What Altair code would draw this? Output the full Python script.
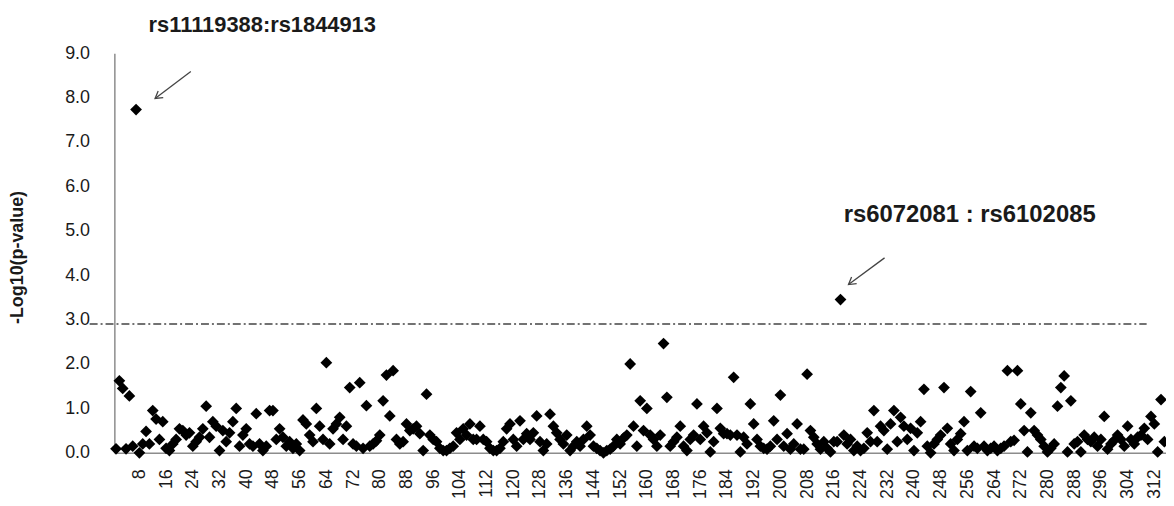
import altair as alt
import pandas as pd

# -log10(p-value) for each SNP-pair index 1..315
values = [
    0.09, 1.62, 1.45, 0.09, 1.28, 0.15, 7.73, 0.0, 0.2, 0.48,
    0.2, 0.95, 0.76, 0.3, 0.7, 0.1, 0.05, 0.2, 0.3, 0.54,
    0.5, 0.4, 0.45, 0.15, 0.25, 0.35, 0.54, 1.05, 0.35, 0.7,
    0.6, 0.05, 0.5, 0.25, 0.45, 0.7, 1.0, 0.15, 0.4, 0.54,
    0.2, 0.15, 0.88, 0.2, 0.05, 0.15, 0.95, 0.95, 0.3, 0.54,
    0.35, 0.15, 0.25, 0.1, 0.2, 0.05, 0.74, 0.65, 0.4, 0.25,
    1.0, 0.6, 0.3, 2.03, 0.2, 0.54, 0.65, 0.8, 0.3, 0.6,
    1.47, 0.2, 0.15, 1.58, 0.1, 1.06, 0.15, 0.2, 0.27, 0.4,
    1.17, 1.75, 0.83, 1.85, 0.3, 0.2, 0.25, 0.65, 0.5, 0.54,
    0.6, 0.43, 0.05, 1.32, 0.4, 0.3, 0.25, 0.1, 0.05, 0.05,
    0.1, 0.15, 0.45, 0.3, 0.54, 0.4, 0.65, 0.3, 0.3, 0.6,
    0.3, 0.25, 0.1, 0.05, 0.05, 0.1, 0.25, 0.54, 0.65, 0.3,
    0.15, 0.72, 0.3, 0.43, 0.3, 0.45, 0.83, 0.25, 0.05, 0.2,
    0.87, 0.6, 0.45, 0.3, 0.2, 0.4, 0.05, 0.15, 0.25, 0.15,
    0.3, 0.6, 0.4, 0.15, 0.1, 0.05, 0.0, 0.05, 0.08, 0.15,
    0.3, 0.2, 0.33, 0.4, 2.0, 0.6, 0.15, 1.17, 0.5, 1.0,
    0.4, 0.3, 0.15, 0.4, 2.46, 1.25, 0.15, 0.25, 0.35, 0.6,
    0.15, 0.05, 0.3, 0.4, 1.1, 0.3, 0.6, 0.45, 0.02, 0.25,
    1.0, 0.55, 0.43, 0.43, 0.4, 1.7, 0.4, 0.02, 0.35, 0.2,
    1.1, 0.65, 0.3, 0.15, 0.1, 0.08, 0.15, 0.72, 0.3, 1.3,
    0.15, 0.43, 0.08, 0.2, 0.65, 0.08, 0.08, 1.77, 0.5, 0.35,
    0.2, 0.08, 0.25, 0.1, 0.02, 0.25, 0.25, 3.45, 0.4, 0.2,
    0.3, 0.05, 0.15, 0.05, 0.1, 0.45, 0.25, 0.95, 0.25, 0.6,
    0.5, 0.08, 0.65, 0.95, 0.25, 0.8, 0.6, 0.3, 0.55, 0.05,
    0.45, 0.7, 1.43, 0.15, 0.0, 0.2, 0.3, 0.4, 1.47, 0.55,
    0.2, 0.05, 0.3, 0.43, 0.7, 0.05, 1.38, 0.15, 0.1, 0.9,
    0.15, 0.05, 0.1, 0.15, 0.05, 0.1, 0.15, 1.85, 0.25, 0.28,
    1.85, 1.1, 0.5, 0.02, 0.9, 0.5, 0.4, 0.3, 0.15, 0.02,
    0.1, 0.2, 1.05, 1.47, 1.73, 0.02, 1.17, 0.2, 0.25, 0.02,
    0.4, 0.3, 0.25, 0.35, 0.15, 0.3, 0.82, 0.08, 0.2, 0.28,
    0.4, 0.3, 0.15, 0.6, 0.3, 0.2, 0.35, 0.4, 0.55, 0.3,
    0.82, 0.65, 0.02, 1.2, 0.25,
]
indices = list(range(1, len(values) + 1))

x_tick_labels = list(range(8, 313, 8))
y_tick_labels = [0, 1, 2, 3, 4, 5, 6, 7, 8, 9]

threshold = 2.9
threshold_start = -6.9
threshold_end = 309.7

ann_labels = ["rs11119388:rs1844913", "rs6072081 : rs6102085"]
ann_x = [44.8, 256.7]
ann_y = [9.64, 5.36]
ann_size = [22, 24]

arrow_id = ["a1", "a1", "a2", "a2"]
arrow_x = [23.4, 12.7, 231.2, 220.4]
arrow_y = [8.59, 7.98, 4.39, 3.79]
tip_x = [12.7, 220.4]
tip_y = [7.98, 3.79]

FONT = "Liberation Sans"

pts = pd.DataFrame({"idx": indices, "val": values})
thr = pd.DataFrame({"x0": [threshold_start], "x1": [threshold_end], "y": [threshold]})
ann = pd.DataFrame({"x": ann_x, "y": ann_y, "label": ann_labels, "fs": ann_size})
arr = pd.DataFrame({"id": arrow_id, "x": arrow_x, "y": arrow_y})
tips = pd.DataFrame({"x": tip_x, "y": tip_y})

xscale = alt.Scale(domain=[0.5, 315.5], nice=False, zero=False)
yscale = alt.Scale(domain=[0, 9], nice=False, zero=True)

x_axis = alt.Axis(values=x_tick_labels, labelAngle=-90, ticks=False, grid=False,
                  domainColor="#8c8c8c", domainWidth=1.5, labelFontSize=18, labelFont=FONT,
                  labelColor="#1a1a1a", labelPadding=16, title=None, labelOverlap=False,
                  labelFlush=False, labelBound=False)
y_axis = alt.Axis(values=y_tick_labels, format=".1f", ticks=False, grid=False,
                  domainColor="#8c8c8c", domainWidth=1.5, labelFontSize=18, labelFont=FONT,
                  labelColor="#1a1a1a", labelPadding=25, labelOverlap=False,
                  title="-Log10(p-value)", titleFont=FONT, titleFontSize=18,
                  titleFontWeight="bold", titleColor="#1a1a1a", titleAngle=270,
                  titleBaseline="bottom", titleAlign="center", titleX=-88, titleY=205)

base = alt.Chart(pts).mark_point(shape="diamond", filled=True, size=140, color="#000000", opacity=1).encode(
    x=alt.X("idx:Q", scale=xscale, axis=x_axis),
    y=alt.Y("val:Q", scale=yscale, axis=y_axis),
)

rule = alt.Chart(thr).mark_rule(color="#444444", strokeWidth=1.6, strokeDash=[8, 3, 2, 3]).encode(
    x=alt.X("x0:Q", scale=xscale, axis=x_axis), x2="x1:Q",
    y=alt.Y("y:Q", scale=yscale, axis=y_axis)
)

text = alt.Chart(ann).mark_text(font=FONT, fontWeight="bold", color="#1a1a1a",
                                align="center", baseline="middle").encode(
    x=alt.X("x:Q", scale=xscale, axis=x_axis), y=alt.Y("y:Q", scale=yscale, axis=y_axis),
    text="label:N", size=alt.Size("fs:Q", scale=None, legend=None)
)

arrows = alt.Chart(arr).mark_line(color="#444444", strokeWidth=1.3).encode(
    x=alt.X("x:Q", scale=xscale, axis=x_axis), y=alt.Y("y:Q", scale=yscale, axis=y_axis),
    detail="id:N"
)

heads = alt.Chart(tips).mark_point(shape="M-0.6,1L0,0L0.6,1", filled=False, size=200,
                                   color="#444444", strokeWidth=1.3, angle=233, opacity=1).encode(
    x=alt.X("x:Q", scale=xscale, axis=x_axis), y=alt.Y("y:Q", scale=yscale, axis=y_axis)
)

chart = alt.layer(base, rule, arrows, heads, text).properties(
    width=1058, height=402,
    autosize=alt.AutoSizeParams(type="none"),
    padding={"left": 107, "top": 44, "right": 0, "bottom": 44},
    background="white",
).configure_view(strokeWidth=0).configure_axisX(labelOverlap=False)

chart.save("out.html", embed_options={"renderer": "svg", "actions": False})
